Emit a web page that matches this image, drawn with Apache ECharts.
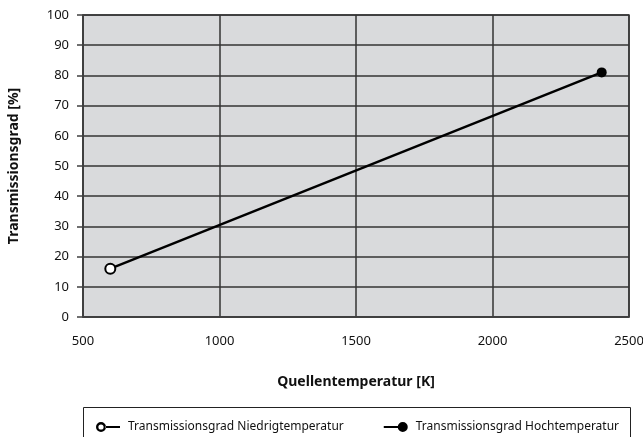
<!DOCTYPE html>
<html>
<head>
<meta charset="utf-8">
<script src="https://cdn.jsdelivr.net/npm/echarts@6/dist/echarts.min.js"></script>
<style>
  html, body { margin: 0; padding: 0; background: #fff; }
  #chart { width: 643px; height: 437px; }
</style>
</head>
<body>
<div id="chart"></div>
<script>
// Werte
var seriesNames = ['Transmissionsgrad Niedrigtemperatur', 'Transmissionsgrad Hochtemperatur']
var tempNiedrig = [600]
var transNiedrig = [16]
var tempHoch = [2400]
var transHoch = [81]
var xTicks = [500, 1000, 1500, 2000, 2500]
var yTicks = [0, 10, 20, 30, 40, 50, 60, 70, 80, 90, 100]

var fontName = '"Noto Sans", "Open Sans", sans-serif'

// Legendensymbole: Ring + Linie, Linie + Punkt
var iconNiedrig = 'path://M0,5 A5,5 0 1,0 10,5 A5,5 0 1,0 0,5 Z M2.4,5 A2.6,2.6 0 1,1 7.6,5 A2.6,2.6 0 1,1 2.4,5 Z M9.5,4 L24,4 L24,6 L9.5,6 Z'
var iconHoch = 'path://M0,4 L15,4 L15,6 L0,6 Z M14,5 A5,5 0 1,1 24,5 A5,5 0 1,1 14,5 Z'

var niedrigData = tempNiedrig.map(function (t, i) { return [t, transNiedrig[i]] })
// Verbindungslinie vom Niedrig- zum Hochtemperaturpunkt
var hochData = [{ value: niedrigData[0], symbol: 'none' }]
tempHoch.forEach(function (t, i) { hochData.push([t, transHoch[i]]) })

var chart = echarts.init(document.getElementById('chart'))
var option = {
    animation: false,
    textStyle: { fontFamily: fontName },
    grid: { left: 83, top: 15, right: 14, bottom: 120, containLabel: false, outerBoundsMode: 'none',
        show: true, backgroundColor: '#d9dadc', borderColor: '#404040', borderWidth: 1.5 },
    xAxis: {
        type: 'value',
        min: xTicks[0], max: xTicks[xTicks.length - 1], interval: 500,
        name: 'Quellentemperatur [K]',
        nameLocation: 'middle', nameGap: 58,
        nameTextStyle: { fontSize: 14, fontWeight: 'bold', color: '#111', fontFamily: fontName },
        axisLine: { show: true, lineStyle: { color: '#404040', width: 1.5 } },
        axisTick: { show: false },
        axisLabel: { color: '#111', fontSize: 13, margin: 18, fontFamily: fontName,
            formatter: function (v) { return String(v) } },
        splitLine: { show: true, lineStyle: { color: '#333', width: 1.5 } }
    },
    yAxis: {
        type: 'value',
        min: yTicks[0], max: yTicks[yTicks.length - 1], interval: 10,
        name: 'Transmissionsgrad [%]',
        nameLocation: 'middle', nameGap: 62,
        nameTextStyle: { fontSize: 14, fontWeight: 'bold', color: '#111', fontFamily: fontName },
        axisLine: { show: true, lineStyle: { color: '#404040', width: 1.5 } },
        axisTick: { show: true, length: 6, lineStyle: { color: '#404040', width: 1.5 } },
        axisLabel: { color: '#111', fontSize: 13, margin: 14, fontFamily: fontName },
        splitLine: { show: true, lineStyle: { color: '#333', width: 1.5 } }
    },
    graphic: [{
        type: 'rect',
        shape: { x: 83.5, y: 407.5, width: 547, height: 40 },
        style: { fill: '#fff', stroke: '#222', lineWidth: 1 },
        z: -1
    }],
    legend: {
        left: 91, top: 416,
        itemWidth: 24, itemHeight: 10, itemGap: 40,
        itemStyle: { color: '#000', borderWidth: 0 },
        lineStyle: { width: 0 },
        textStyle: { fontSize: 12, color: '#111', fontFamily: fontName, padding: [0, 0, 0, 3] },
        data: [
            { name: seriesNames[0], icon: iconNiedrig },
            { name: seriesNames[1], icon: iconHoch }
        ]
    },
    series: [
        {
            name: seriesNames[1],
            type: 'line',
            data: hochData,
            symbol: 'circle', symbolSize: 10,
            itemStyle: { color: '#000' },
            lineStyle: { color: '#000', width: 2.5 },
            z: 2
        },
        {
            name: seriesNames[0],
            type: 'line',
            data: niedrigData,
            symbol: 'emptyCircle', symbolSize: 10,
            itemStyle: { color: '#000', borderColor: '#000', borderWidth: 2.5 },
            lineStyle: { color: '#000', width: 2.5 },
            z: 3
        }
    ]
}
chart.setOption(option)
</script>
</body>
</html>
